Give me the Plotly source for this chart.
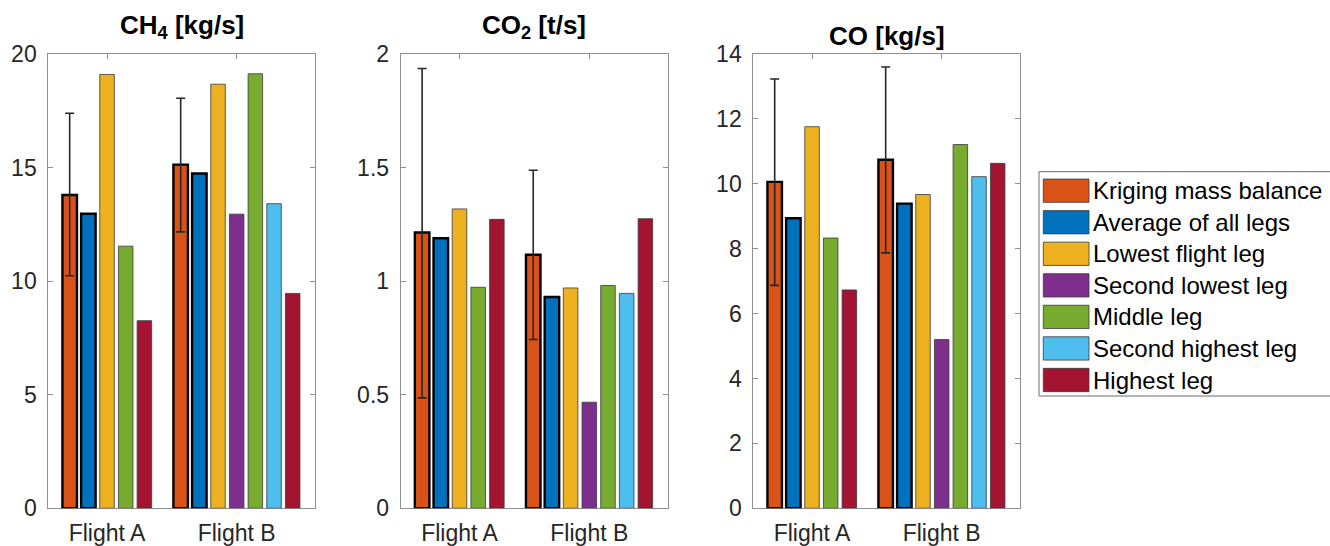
import plotly.graph_objects as go

# ---------------- data ----------------
flights = ["Flight A", "Flight B"]
series_names = ["Kriging mass balance", "Average of all legs", "Lowest flight leg",
                "Second lowest leg", "Middle leg", "Second highest leg", "Highest leg"]
series_colors = ["#D95319", "#0072BD", "#EDB120", "#7E2F8E", "#77AC30", "#4DBEEE", "#A2142F"]

# CH4 [kg/s]
ch4_kriging = [13.79, 15.13]
ch4_average = [12.97, 14.74]
ch4_lowest = [19.10, 18.67]
ch4_second_lowest = [None, 12.95]
ch4_middle = [11.54, 19.13]
ch4_second_highest = [None, 13.41]
ch4_highest = [8.26, 9.46]
ch4_err_upper = [17.39, 18.05]
ch4_err_lower = [10.24, 12.17]

# CO2 [t/s]
co2_kriging = [1.214, 1.116]
co2_average = [1.189, 0.930]
co2_lowest = [1.318, 0.970]
co2_second_lowest = [None, 0.467]
co2_middle = [0.973, 0.981]
co2_second_highest = [None, 0.946]
co2_highest = [1.272, 1.275]
co2_err_upper = [1.936, 1.488]
co2_err_lower = [0.486, 0.743]

# CO [kg/s]
co_kriging = [10.06, 10.74]
co_average = [8.94, 9.39]
co_lowest = [11.76, 9.67]
co_second_lowest = [None, 5.20]
co_middle = [8.33, 11.21]
co_second_highest = [None, 10.22]
co_highest = [6.73, 10.63]
co_err_upper = [13.23, 13.60]
co_err_lower = [6.87, 7.87]

panel_titles = ["CH<sub>4</sub> [kg/s]", "CO<sub>2</sub> [t/s]", "CO [kg/s]"]
y_max = [20, 2, 14]
y_dtick = [5, 0.5, 2]

panels = [
    ([ch4_kriging, ch4_average, ch4_lowest, ch4_second_lowest, ch4_middle, ch4_second_highest, ch4_highest],
     ch4_err_upper, ch4_err_lower),
    ([co2_kriging, co2_average, co2_lowest, co2_second_lowest, co2_middle, co2_second_highest, co2_highest],
     co2_err_upper, co2_err_lower),
    ([co_kriging, co_average, co_lowest, co_second_lowest, co_middle, co_second_highest, co_highest],
     co_err_upper, co_err_lower),
]

# ---------------- layout constants ----------------
W, H = 1330, 546
x_domains_px = [(48.3, 315.0), (400.7, 667.7), (753.3, 1020.0)]
y_top_px, y_bot_px = 54.0, 508.3
bar_step = 0.144
bar_width = 0.112
x_range = [0.547, 2.604]
title_y_px = [26, 26, 36]

axis_color = "#8f8f8f"
text_color = "#262626"
font_family = "Liberation Sans, Arial, Helvetica, sans-serif"

fig = go.Figure()

for p, (series, err_up, err_lo) in enumerate(panels):
    xa = "x" if p == 0 else f"x{p+1}"
    ya = "y" if p == 0 else f"y{p+1}"
    # bar positions within each flight group: present bars are packed, centred on the flight
    positions = {}
    for g in range(len(flights)):
        present = [s for s in range(len(series)) if series[s][g] is not None]
        n = len(present)
        for k, s in enumerate(present):
            positions[(s, g)] = (g + 1) + (k - (n - 1) / 2) * bar_step
    for s, vals in enumerate(series):
        xs, ys = [], []
        eu, el = [], []
        for g in range(len(flights)):
            if vals[g] is None:
                continue
            xs.append(positions[(s, g)])
            ys.append(vals[g])
            eu.append(err_up[g] - vals[g])
            el.append(vals[g] - err_lo[g])
        thick = s < 2
        bar = dict(
            x=xs, y=ys, width=bar_width, name=series_names[s],
            marker=dict(color=series_colors[s],
                        line=dict(color="#000000" if thick else "#3a3a3a",
                                  width=2.4 if thick else 0.8)),
            xaxis=xa, yaxis=ya, showlegend=False,
        )
        if s == 0:
            bar["error_y"] = dict(type="data", symmetric=False, array=eu, arrayminus=el,
                                  color="#262626", thickness=1.6, width=4.5)
        fig.add_trace(go.Bar(**bar))

    x0, x1 = x_domains_px[p]
    axis_common = dict(showline=True, linecolor=axis_color, linewidth=1, mirror="ticks",
                       ticks="inside", ticklen=5, tickcolor=axis_color, showgrid=False,
                       zeroline=False, automargin=False,
                       tickfont=dict(size=23, color=text_color, family=font_family))
    fig.update_layout(**{
        ("xaxis" if p == 0 else f"xaxis{p+1}"): dict(
            domain=[x0 / W, x1 / W], range=x_range, tickvals=[1, 2], ticktext=flights,
            anchor=ya, layer="below traces", ticklabelstandoff=4, **axis_common),
        ("yaxis" if p == 0 else f"yaxis{p+1}"): dict(
            domain=[1 - y_bot_px / H, 1 - y_top_px / H], range=[0, y_max[p]], dtick=y_dtick[p],
            anchor=xa, ticklabelstandoff=6, **axis_common),
    })
    fig.add_annotation(text="<b>" + panel_titles[p] + "</b>", xref="paper", yref="paper",
                       x=(x0 + x1) / 2 / W, y=1 - title_y_px[p] / H, xanchor="center",
                       yanchor="middle", showarrow=False,
                       font=dict(size=26, color="#000000", family=font_family))

# ---------------- legend (drawn box) ----------------
leg_left, leg_top, leg_bot = 1039, 171.7, 396
fig.add_shape(type="rect", xref="paper", yref="paper",
              x0=leg_left / W, x1=1.02, y0=1 - leg_bot / H, y1=1 - leg_top / H,
              line=dict(color="#6a6a6a", width=1), fillcolor="white", layer="above")
row0, row_step, sw_h = 190.7, 31.55, 23.3
for i, name in enumerate(series_names):
    cy = row0 + i * row_step
    fig.add_shape(type="rect", xref="paper", yref="paper",
                  x0=1043.3 / W, x1=1089 / W, y0=1 - (cy + sw_h / 2) / H, y1=1 - (cy - sw_h / 2) / H,
                  line=dict(color="#3a3a3a", width=0.8), fillcolor=series_colors[i], layer="above")
    fig.add_annotation(text=name, xref="paper", yref="paper", x=1091 / W, y=1 - cy / H,
                       xanchor="left", yanchor="middle", showarrow=False,
                       font=dict(size=24, color="#000000", family=font_family))

fig.update_layout(width=W, height=H, margin=dict(l=0, r=0, t=0, b=0, autoexpand=False),
                  paper_bgcolor="white", plot_bgcolor="white", barmode="overlay",
                  font=dict(family=font_family, color=text_color), showlegend=False)

fig.write_html("out.html")
